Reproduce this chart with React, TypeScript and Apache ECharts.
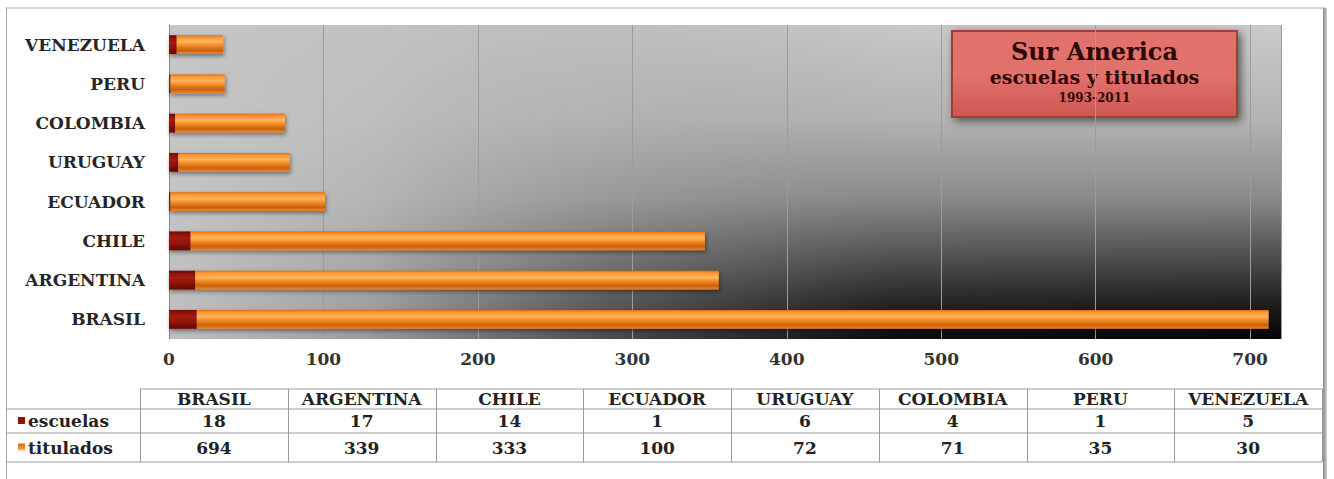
import React, { useEffect, useRef } from "react";
import * as echarts from "echarts";

// Countries, bottom to top on the category axis
const countries = ["BRASIL", "ARGENTINA", "CHILE", "ECUADOR", "URUGUAY", "COLOMBIA", "PERU", "VENEZUELA"];
const escuelas = [18, 17, 14, 1, 6, 4, 1, 5];
const titulados = [694, 339, 333, 100, 72, 71, 35, 30];
const seriesNames = ["escuelas", "titulados"];
const titleLines = ["Sur America", "escuelas y titulados", "1993-2011"];

const FONT = '"DejaVu Serif", "Liberation Serif", serif';

// Layout of the plot area
const GRID = { left: 169, top: 25, width: 1112, height: 314 };

// Layout of the data table below the axis
const TABLE = {
  left: 6,
  labelRight: 140,
  right: 1322,
  rows: [389, 409, 433, 462],
};

function buildTable(): any[] {
  const els: any[] = [];
  const line = "#9a9a9a";
  const colW = (TABLE.right - TABLE.labelRight) / countries.length;
  const [r0, r1, r2, r3] = TABLE.rows;

  // horizontal rules
  els.push({ type: "line", shape: { x1: TABLE.labelRight, y1: r0, x2: TABLE.right, y2: r0 }, style: { stroke: line, lineWidth: 1 } });
  [r1, r2, r3].forEach((y) =>
    els.push({ type: "line", shape: { x1: TABLE.left, y1: y, x2: TABLE.right, y2: y }, style: { stroke: line, lineWidth: 1 } })
  );
  // vertical rules
  for (let i = 0; i <= countries.length; i++) {
    const x = Math.round(TABLE.labelRight + i * colW) + 0.5;
    els.push({ type: "line", shape: { x1: x, y1: r0, x2: x, y2: r3 }, style: { stroke: line, lineWidth: 1 } });
  }

  const cellText = (text: string, x: number, y: number, align = "center") => ({
    type: "text",
    x,
    y,
    style: {
      text,
      fill: "#222",
      font: `bold 17px ${FONT}`,
      textAlign: align,
      textVerticalAlign: "middle",
    },
  });

  const yHead = (r0 + r1) / 2;
  const yEsc = (r1 + r2) / 2;
  const yTit = (r2 + r3) / 2;
  countries.forEach((c, i) => {
    const cx = TABLE.labelRight + (i + 0.5) * colW;
    els.push(cellText(c, cx, yHead));
    els.push(cellText(String(escuelas[i]), cx, yEsc));
    els.push(cellText(String(titulados[i]), cx, yTit));
  });

  // row labels with their series keys
  els.push({ type: "rect", shape: { x: 18, y: yEsc - 4, width: 7, height: 7 }, style: { fill: "#8e1409" } });
  els.push({
    type: "rect",
    shape: { x: 18, y: yTit - 4, width: 7, height: 7 },
    style: {
      fill: new echarts.graphic.LinearGradient(0, 0, 0, 1, [
        { offset: 0, color: "#e0620c" },
        { offset: 0.6, color: "#f08a26" },
        { offset: 1, color: "#ffc070" },
      ]),
    },
  });
  els.push(cellText(seriesNames[0], 28, yEsc, "left"));
  els.push(cellText(seriesNames[1], 28, yTit, "left"));
  return els;
}

function buildTitle(): any {
  const x = 952, y = 31, w = 285, h = 86;
  const cx = x + w / 2;
  return {
    type: "group",
    children: [
      {
        type: "rect",
        shape: { x, y, width: w, height: h },
        style: {
          fill: new echarts.graphic.LinearGradient(0, 0, 0, 1, [
            { offset: 0, color: "#e2716c" },
            { offset: 0.5, color: "#e0736c" },
            { offset: 1, color: "#cf5651" },
          ]),
          stroke: "#a43a36",
          lineWidth: 2,
          shadowBlur: 8,
          shadowColor: "rgba(0,0,0,0.55)",
          shadowOffsetX: 3,
          shadowOffsetY: 3,
        },
      },
      {
        type: "text",
        x: cx,
        y: y + 20,
        style: { text: titleLines[0], fill: "#2e0807", font: `bold 24px ${FONT}`, textAlign: "center", textVerticalAlign: "middle" },
      },
      {
        type: "text",
        x: cx,
        y: y + 46,
        style: { text: titleLines[1], fill: "#2e0807", font: `bold 19px ${FONT}`, textAlign: "center", textVerticalAlign: "middle" },
      },
      {
        type: "text",
        x: cx,
        y: y + 67,
        style: { text: titleLines[2], fill: "#2e0807", font: `bold 12px ${FONT}`, textAlign: "center", textVerticalAlign: "middle" },
      },
    ],
  };
}

export default function App() {
  const ref = useRef<HTMLDivElement>(null);

  useEffect(() => {
    if (!ref.current) return;
    const chart = echarts.init(ref.current, undefined, { renderer: "svg" });

    const plotBg = [
      // darkening toward the bottom
      {
        type: "rect",
        z: -10,
        shape: { x: GRID.left, y: GRID.top, width: GRID.width, height: GRID.height },
        style: {
          fill: new echarts.graphic.LinearGradient(0, 0, 0, 1, [
            { offset: 0, color: "#cacaca" },
            { offset: 0.3, color: "#b4b4b4" },
            { offset: 0.55, color: "#8a8a8a" },
            { offset: 0.75, color: "#4a4a4a" },
            { offset: 0.9, color: "#1a1a1a" },
            { offset: 1, color: "#050505" },
          ]),
        },
      },
      // lighter toward the left side
      {
        type: "rect",
        z: -9,
        shape: { x: GRID.left, y: GRID.top, width: GRID.width, height: GRID.height },
        style: {
          fill: new echarts.graphic.LinearGradient(0, 0, 1, 0, [
            { offset: 0, color: "rgba(198,198,198,0.97)" },
            { offset: 0.18, color: "rgba(192,192,192,0.8)" },
            { offset: 0.4, color: "rgba(175,175,175,0.4)" },
            { offset: 0.65, color: "rgba(150,150,150,0.05)" },
            { offset: 1, color: "rgba(150,150,150,0)" },
          ]),
        },
      },
    ];

    const frame = [
      { type: "line", shape: { x1: 6, y1: 8, x2: 1325, y2: 8 }, style: { stroke: "#a8a8a8", lineWidth: 1 } },
      { type: "line", shape: { x1: 6.5, y1: 8, x2: 6.5, y2: 479 }, style: { stroke: "#a8a8a8", lineWidth: 1 } },
      {
        type: "rect",
        shape: { x: 1323, y: 8, width: 4, height: 471 },
        style: {
          fill: new echarts.graphic.LinearGradient(0, 0, 1, 0, [
            { offset: 0, color: "#8a8a8a" },
            { offset: 1, color: "#d0d0d0" },
          ]),
        },
      },
    ];

    const barShadow = {
      shadowColor: "rgba(0,0,0,0.45)",
      shadowBlur: 4,
      shadowOffsetX: 1,
      shadowOffsetY: 2,
    };

    chart.setOption({
      animation: false,
      backgroundColor: "#ffffff",
      grid: { left: GRID.left, top: GRID.top, width: GRID.width, height: GRID.height, containLabel: false },
      xAxis: {
        type: "value",
        min: 0,
        max: 720,
        interval: 100,
        axisLine: { show: false },
        axisTick: { show: false },
        splitLine: { show: true, lineStyle: { color: "#9c9c9c", width: 1 } },
        axisLabel: {
          showMaxLabel: false,
          margin: 11,
          color: "#333",
          fontFamily: FONT,
          fontWeight: "bold",
          fontSize: 17,
        },
      },
      yAxis: {
        type: "category",
        data: countries,
        axisLine: { show: true, lineStyle: { color: "#8a8a8a" } },
        axisTick: { show: false },
        axisLabel: {
          margin: 24,
          color: "#262626",
          fontFamily: FONT,
          fontWeight: "bold",
          fontSize: 17,
        },
      },
      graphic: [...plotBg, ...frame, buildTitle(), ...buildTable()],
      series: [
        {
          name: seriesNames[0],
          type: "bar",
          stack: "total",
          barWidth: "48%",
          data: escuelas,
          itemStyle: {
            color: new echarts.graphic.LinearGradient(0, 0, 0, 1, [
              { offset: 0, color: "#740b05" },
              { offset: 0.35, color: "#a81c0e" },
              { offset: 0.65, color: "#8e1409" },
              { offset: 1, color: "#650803" },
            ]),
            ...barShadow,
          },
        },
        {
          name: seriesNames[1],
          type: "bar",
          stack: "total",
          barWidth: "48%",
          data: titulados,
          itemStyle: {
            color: new echarts.graphic.LinearGradient(0, 0, 0, 1, [
              { offset: 0, color: "#e06a0c" },
              { offset: 0.12, color: "#ff9633" },
              { offset: 0.35, color: "#ffb45e" },
              { offset: 0.55, color: "#f28b26" },
              { offset: 0.8, color: "#c9600c" },
              { offset: 1, color: "#ee8530" },
            ]),
            ...barShadow,
          },
        },
      ],
    });

    return () => chart.dispose();
  }, []);

  return <div ref={ref} style={{ position: "fixed", left: 0, top: 0, width: 1334, height: 479 }} />;
}
